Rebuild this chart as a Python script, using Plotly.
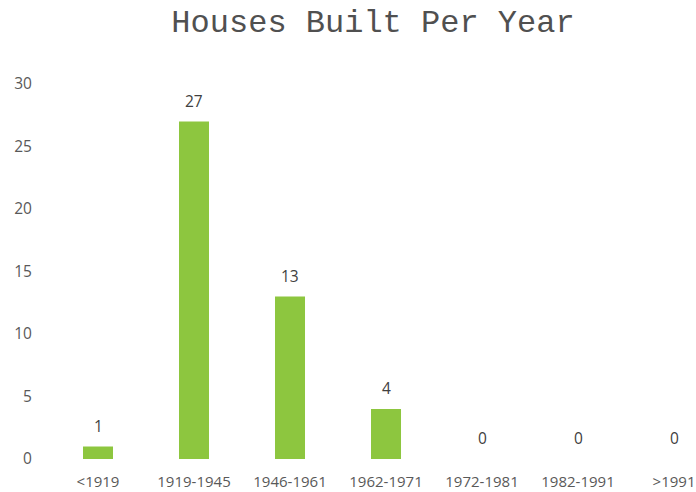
import plotly.graph_objects as go

categories = ["<1919", "1919-1945", "1946-1961", "1962-1971", "1972-1981", "1982-1991", ">1991"]
values = [1, 27, 13, 4, 0, 0, 0]
y_ticks = [0, 5, 10, 15, 20, 25, 30]

FONT = "Open Sans, Noto Sans, sans-serif"

fig = go.Figure(go.Bar(
    x=categories, y=values, width=0.3125,
    marker=dict(color="#8DC63F", line=dict(width=0)),
    cliponaxis=False, hoverinfo="x+y",
))

for c, v in zip(categories, values):
    fig.add_annotation(x=c, y=v, text=str(v), showarrow=False, yshift=21,
                       xanchor="center", yanchor="middle",
                       font=dict(family=FONT, size=15.5, color="#404040"))

fig.update_layout(
    template="none",
    width=696, height=492,
    margin=dict(l=50, r=0, t=84, b=33),
    paper_bgcolor="white", plot_bgcolor="white",
    title=dict(text="Houses Built Per Year", x=0.5, xref="paper", xanchor="center",
               y=1 - 21/492, yref="container", yanchor="middle",
               font=dict(family="Liberation Mono, Courier New, monospace", size=32, color="#505050")),
    showlegend=False,
    bargap=0.6875,
    xaxis=dict(range=[-0.5, 6.229], showgrid=False, showline=False, zeroline=False,
               ticks="outside", ticklen=9, tickcolor="rgba(0,0,0,0)", automargin=False,
               tickfont=dict(family=FONT, size=15, color="#595959")),
    yaxis=dict(range=[0, 30], tickvals=y_ticks, showgrid=False, showline=False, zeroline=False,
               ticks="outside", ticklen=14, tickcolor="rgba(0,0,0,0)", automargin=False,
               tickfont=dict(family=FONT, size=15.5, color="#595959")),
)

fig.write_html("out.html", config={"displayModeBar": False},
               post_script="document.body.style.margin='0';document.body.style.overflow='hidden';")
